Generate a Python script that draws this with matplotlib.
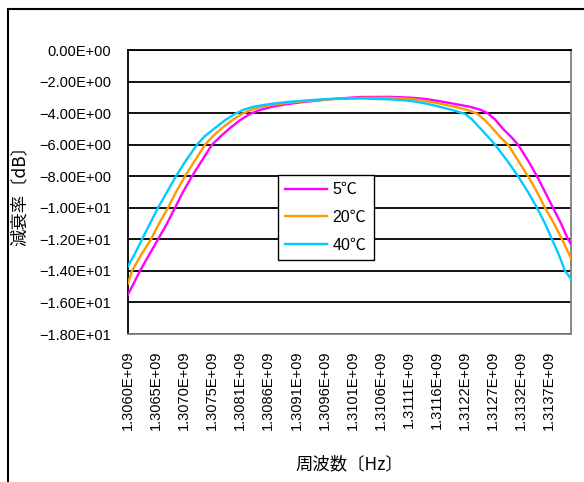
import matplotlib
matplotlib.use("Agg")
import matplotlib.pyplot as plt
from matplotlib.lines import Line2D

# ---- data: frequency offset from 1.3060 GHz (MHz) and attenuation (dB) ----
base_freq_hz = 1.3060e9

off_5 = [0, 0.110, 0.219, 0.383, 0.548, 0.712, 0.858, 1.004, 1.169, 1.351, 1.534, 1.698,
         1.862, 2.045, 2.227, 2.410, 2.629, 2.867, 3.140, 3.688, 4.236, 4.784, 5.149, 5.423,
         5.696, 5.970, 6.244, 6.427, 6.555, 6.701, 6.847, 6.993, 7.121, 7.303, 7.467, 7.614,
         7.760, 7.906, 8.034, 8.088]
db_5 = [-15.5, -14.75, -14.0, -13.0, -12.0, -11.0, -10.0, -9.0, -8.0, -7.0, -6.0, -5.45,
        -4.95, -4.45, -4.05, -3.8, -3.6, -3.45, -3.32, -3.12, -2.98, -2.97, -3.02, -3.1,
        -3.25, -3.42, -3.6, -3.78, -3.98, -4.4, -5.0, -5.5, -6.0, -7.0, -8.0, -9.0,
        -10.0, -11.0, -12.0, -12.3]

off_20 = [0, 0.073, 0.237, 0.420, 0.566, 0.730, 0.876, 1.041, 1.223, 1.406, 1.552, 1.716,
          1.899, 2.081, 2.227, 2.410, 2.629, 2.867, 3.140, 3.688, 4.236, 4.784, 5.149, 5.423,
          5.696, 5.970, 6.189, 6.372, 6.518, 6.664, 6.792, 6.938, 7.121, 7.303, 7.467, 7.614,
          7.778, 7.924, 8.088]
db_20 = [-14.8, -14.0, -13.0, -12.0, -11.0, -10.0, -9.0, -8.0, -7.0, -6.0, -5.45, -4.95,
         -4.45, -4.05, -3.82, -3.62, -3.48, -3.37, -3.27, -3.12, -3.03, -3.03, -3.1, -3.22,
         -3.4, -3.6, -3.8, -4.03, -4.45, -5.0, -5.5, -6.0, -7.0, -8.0, -9.0, -10.0,
         -11.0, -12.0, -13.2]

off_40 = [0, 0.128, 0.256, 0.402, 0.548, 0.712, 0.876, 1.059, 1.260, 1.406, 1.588, 1.771,
          1.954, 2.100, 2.264, 2.447, 2.684, 2.958, 3.323, 3.688, 4.236, 4.784, 5.149, 5.423,
          5.696, 5.916, 6.153, 6.281, 6.427, 6.573, 6.701, 6.920, 7.121, 7.303, 7.467, 7.614,
          7.741, 7.869, 7.979, 8.088]
db_40 = [-13.7, -12.9, -12.0, -11.0, -10.0, -9.0, -8.0, -7.0, -6.0, -5.45, -4.95, -4.45,
         -4.05, -3.8, -3.62, -3.5, -3.38, -3.28, -3.18, -3.1, -3.07, -3.13, -3.22, -3.38,
         -3.6, -3.8, -4.05, -4.4, -4.95, -5.5, -6.0, -7.0, -8.0, -9.0, -10.0, -11.0,
         -12.0, -13.0, -14.0, -14.5]

series_labels = ["5℃", "20℃", "40℃"]
series_colors = ["#ff00ff", "#ff9900", "#00ccff"]

xtick_off = [0.5125 * k for k in range(16)]
xtick_labels = ["1.3060E+09", "1.3065E+09", "1.3070E+09", "1.3075E+09", "1.3081E+09",
                "1.3086E+09", "1.3091E+09", "1.3096E+09", "1.3101E+09", "1.3106E+09",
                "1.3111E+09", "1.3116E+09", "1.3122E+09", "1.3127E+09", "1.3132E+09",
                "1.3137E+09"]
ytick_vals = [0, -2, -4, -6, -8, -10, -12, -14, -16, -18]
ytick_labels = ["0.00E+00", "\u22122.00E+00", "\u22124.00E+00", "\u22126.00E+00", "\u22128.00E+00",
                "\u22121.00E+01", "\u22121.20E+01", "\u22121.40E+01", "\u22121.60E+01", "\u22121.80E+01"]
xlabel = "周波数〔Hz〕"
ylabel = "減衰率〔dB〕"

plt.rcParams['font.family'] = ['Liberation Sans', 'Noto Sans CJK JP', 'DejaVu Sans']

fig = plt.figure(figsize=(5.84, 4.82), dpi=100)
ax = fig.add_axes([128 / 584, 1 - 334 / 482, (571 - 128) / 584, (334 - 50) / 482])

for y in ytick_vals:
    ax.axhline(y, color="black", lw=1.3, zorder=1)

for offs, dy, lab, col in zip([off_5, off_20, off_40], [db_5, db_20, db_40],
                              series_labels, series_colors):
    ax.plot([base_freq_hz + o * 1e6 for o in offs], dy, color=col, lw=1.7, label=lab,
            zorder=3, solid_joinstyle="round")

ax.set_xlim(base_freq_hz, base_freq_hz + 8.088e6)
ax.set_ylim(-18, 0)
ax.set_xticks([base_freq_hz + o * 1e6 for o in xtick_off])
ax.set_xticklabels(xtick_labels, rotation=90, fontsize=10.5)
ax.set_yticks(ytick_vals)
ax.set_yticklabels(ytick_labels, fontsize=10.5)
ax.tick_params(axis='both', length=0)
ax.tick_params(axis='x', pad=12)
ax.tick_params(axis='y', pad=12)

for s in ["left", "top"]:
    ax.spines[s].set_color("black")
    ax.spines[s].set_linewidth(1.3)
for s in ["right", "bottom"]:
    ax.spines[s].set_color("#808080")
    ax.spines[s].set_linewidth(1.3)

ax.set_xlabel(xlabel, fontsize=12.5, family=['Noto Sans CJK JP'])
ax.xaxis.set_label_coords(0.5, -(455 - 334) / 284)
ax.set_ylabel(ylabel, fontsize=12.5, family=['Noto Sans CJK JP'])
ax.yaxis.set_label_coords(-(128 - 29) / 443, 0.5)

leg = ax.legend(loc="upper left", bbox_to_anchor=(0.339, 0.56), fancybox=False,
                edgecolor="black", framealpha=1, handlelength=2.6,
                labelspacing=0.8, borderpad=0.45, handletextpad=0.35, borderaxespad=0,
                prop={'family': ['Liberation Sans', 'Noto Sans CJK JP'], 'size': 11.5})
leg.get_frame().set_linewidth(1.0)

# outer chart frame (left and top edges visible)
fig.add_artist(Line2D([8 / 584, 8 / 584], [0, 1 - 9 / 482], color="black", lw=1.5,
                      transform=fig.transFigure))
fig.add_artist(Line2D([8 / 584, 1], [1 - 9 / 482, 1 - 9 / 482], color="black", lw=1.5,
                      transform=fig.transFigure))

fig.savefig("out.png", dpi=100)
